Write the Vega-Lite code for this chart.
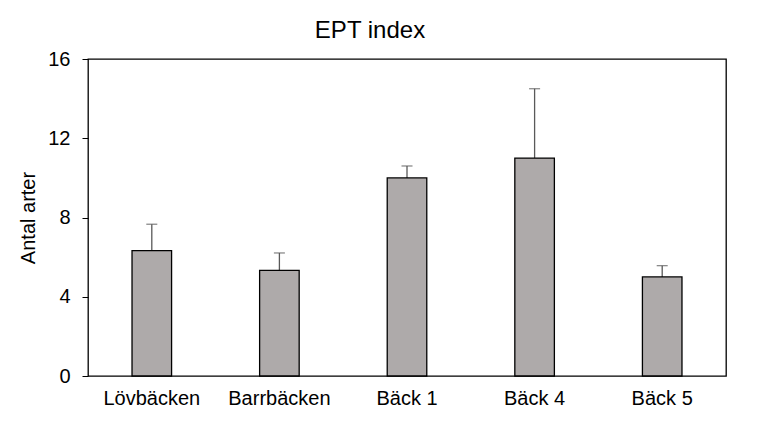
{
  "$schema": "https://vega.github.io/schema/vega-lite/v6.json",
  "width": 638,
  "height": 317,
  "autosize": {"type": "none"},
  "padding": {"left": 88, "top": 59, "right": 31, "bottom": 57},
  "background": "white",
  "title": {"text": "EPT index", "font": "Liberation Sans", "fontSize": 24, "fontWeight": "normal", "color": "black", "offset": 6, "dx": -37},
  "config": {
    "view": {"stroke": "black", "strokeWidth": 1.3},
    "font": "Liberation Sans"
  },
  "data": {
    "values": [
      {"site": "Lövbäcken", "value": 6.33, "upper": 7.66},
      {"site": "Barrbäcken", "value": 5.33, "upper": 6.21},
      {"site": "Bäck 1", "value": 10.0, "upper": 10.6},
      {"site": "Bäck 4", "value": 11.0, "upper": 14.5},
      {"site": "Bäck 5", "value": 5.0, "upper": 5.57}
    ]
  },
  "encoding": {
    "x": {
      "field": "site", "type": "nominal", "sort": null,
      "scale": {"paddingInner": 0.69, "paddingOuter": 0.345},
      "axis": {"title": null, "labelAngle": 0, "ticks": false, "domain": false, "labelFontSize": 20, "labelColor": "black", "labelPadding": 12, "labelFont": "Liberation Sans"}
    }
  },
  "layer": [
    {
      "mark": {"type": "rule", "color": "#595959", "strokeWidth": 1.3},
      "encoding": {
        "y": {"field": "value", "type": "quantitative"},
        "y2": {"field": "upper"}
      }
    },
    {
      "mark": {"type": "tick", "color": "#595959", "size": 11, "thickness": 1.3, "orient": "horizontal"},
      "encoding": {
        "y": {"field": "upper", "type": "quantitative"}
      }
    },
    {
      "mark": {"type": "bar", "fill": "#aeaaaa", "stroke": "black", "strokeWidth": 1.3},
      "encoding": {
        "y": {
          "field": "value", "type": "quantitative",
          "scale": {"domain": [0, 16], "nice": false},
          "axis": {"title": "Antal arter", "titleFontSize": 20, "titleFontWeight": "normal", "titleColor": "black", "titlePadding": 9, "values": [0, 4, 8, 12, 16], "grid": false, "domain": false, "tickColor": "black", "tickSize": 6, "labelFontSize": 20, "labelColor": "black", "labelPadding": 12, "labelFont": "Liberation Sans", "titleFont": "Liberation Sans"}
        }
      }
    }
  ]
}
